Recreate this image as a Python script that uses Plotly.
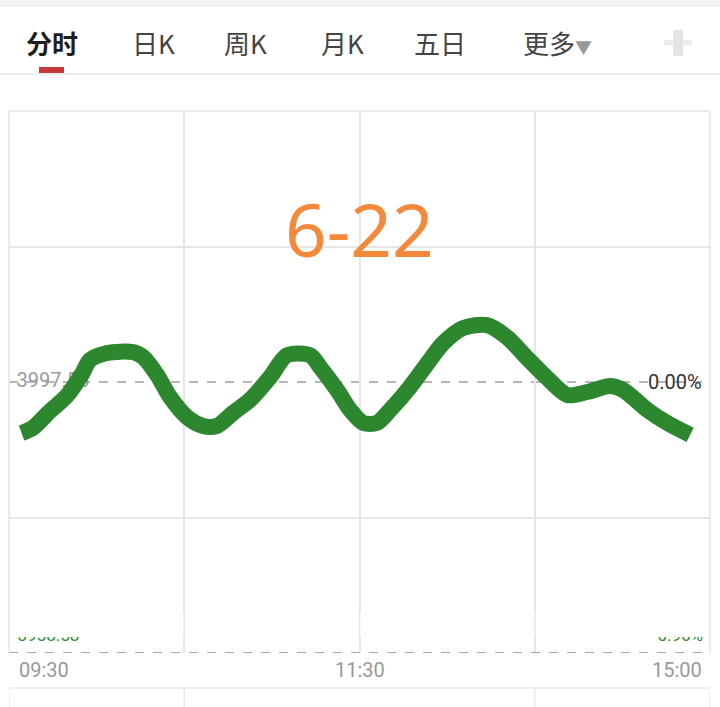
import plotly.graph_objects as go

# ---- data ----
minutes = [4.3, 8.2, 14.0, 19.9, 25.0, 27.7, 33.6, 42.5, 45.9, 50.7, 55.1, 60.9, 66.4, 71.2,
           76.7, 82.5, 89.4, 95.2, 103.1, 106.5, 112.3, 116.8, 121.2, 126.0, 130.5, 137.3,
           144.1, 148.6, 155.4, 163.7, 170.5, 177.4, 184.2, 191.1, 197.9, 205.8, 210.2,
           218.5, 225.3, 233.2]
pct = [-0.188, -0.169, -0.108, -0.050, 0.030, 0.081, 0.107, 0.110, 0.092, 0.026, -0.055,
       -0.129, -0.162, -0.162, -0.114, -0.066, 0.018, 0.099, 0.099, 0.055, -0.029, -0.103,
       -0.151, -0.151, -0.103, -0.018, 0.081, 0.143, 0.199, 0.210, 0.165, 0.088, 0.015,
       -0.048, -0.037, -0.015, -0.029, -0.103, -0.151, -0.195]
tabs = ["分时", "日K", "周K", "月K", "五日", "更多▼"]
tab_x = [52, 153, 245, 342, 440, 557]
time_labels = ["09:30", "11:30", "15:00"]
time_pos = [0, 120, 240]
base_price = "3997.56"
date_label = "6-22"

W, H = 720, 707
L, R, T, B = 9, 10, 111, 54
pw, ph = W - L - R, H - T - B


def px(x):
    return (x - L) / pw


def py(y):
    return (H - B - y) / ph


fig = go.Figure()

# labels drawn under the line
fig.add_trace(go.Scatter(x=[2.6], y=[0], mode="text", text=[base_price],
                         textposition="middle right",
                         textfont=dict(size=20, color="#9a9a9a", family="Roboto"),
                         cliponaxis=False, hoverinfo="skip", showlegend=False))
fig.add_trace(go.Scatter(x=[2.9, 237.6], y=[-0.94, -0.94], mode="text",
                         text=["3958.58", "-0.96%"],
                         textposition=["middle right", "middle left"],
                         textfont=dict(size=17, color="#2f8a2f", family="Roboto"),
                         cliponaxis=False, hoverinfo="skip", showlegend=False))

fig.add_trace(go.Scatter(x=minutes, y=pct, mode="lines",
                         line=dict(color="#2d872f", width=16, shape="spline", smoothing=0.8),
                         hoverinfo="skip", showlegend=False))

shapes = []
# white cover over upper part of bottom labels
shapes.append(dict(type="rect", xref="paper", yref="paper", x0=0.005, x1=0.995,
                   y0=py(637), y1=py(612), fillcolor="white", line_width=0, layer="above"))
# restore gridlines through the cover
for xv in [60, 120, 180]:
    shapes.append(dict(type="line", xref="x", yref="paper", x0=xv, x1=xv, y0=py(638), y1=py(611),
                       line=dict(color="#e6e6e6", width=1.5), layer="above"))
# zero dashed line
shapes.append(dict(type="line", xref="paper", yref="y", x0=0, x1=1, y0=0, y1=0,
                   line=dict(color="#a0a0a0", width=1.5, dash="dash"), layer="below"))
# bottom dashed line
shapes.append(dict(type="line", xref="paper", yref="y", x0=0, x1=1, y0=-1, y1=-1,
                   line=dict(color="#b5a48e", width=2, dash="dash"), layer="above"))
# top border + side borders
shapes.append(dict(type="line", xref="paper", yref="paper", x0=0, x1=1, y0=1, y1=1,
                   line=dict(color="#e6e6e6", width=1.5), layer="below"))
for xv in [0, 1]:
    shapes.append(dict(type="line", xref="paper", yref="paper", x0=xv, x1=xv, y0=0, y1=1,
                       line=dict(color="#e6e6e6", width=1.5), layer="below"))
# bottom strip line
shapes.append(dict(type="line", xref="paper", yref="paper", x0=0, x1=1, y0=py(688), y1=py(688),
                   line=dict(color="#e8e8e8", width=1.5), layer="below"))
for xv in [0, 60, 180, 240]:
    shapes.append(dict(type="line", xref="x", yref="paper", x0=xv, x1=xv, y0=py(688), y1=py(707),
                       line=dict(color="#e8e8e8", width=1.5), layer="below"))
# header separator
shapes.append(dict(type="line", xref="paper", yref="paper", x0=px(0), x1=px(720), y0=py(74), y1=py(74),
                   line=dict(color="#e6e6e6", width=1.5)))
# top gray band
shapes.append(dict(type="rect", xref="paper", yref="paper", x0=px(0), x1=px(720), y0=py(7), y1=py(0),
                   fillcolor="#f1f1f1", line_width=0))
# red tab indicator
shapes.append(dict(type="rect", xref="paper", yref="paper", x0=px(39), x1=px(64), y0=py(73), y1=py(67),
                   fillcolor="#c9393b", line_width=0))
# blurred icon at right
shapes.append(dict(type="rect", xref="paper", yref="paper", x0=px(664), x1=px(692), y0=py(45), y1=py(40),
                   fillcolor="#ececec", line_width=0))
shapes.append(dict(type="rect", xref="paper", yref="paper", x0=px(673), x1=px(683), y0=py(56), y1=py(30),
                   fillcolor="#e3e3e3", line_width=0))

annotations = []
for i, (t, x) in enumerate(zip(tabs, tab_x)):
    if i == 0:
        txt = "<b>" + t + "</b>"
        col = "#1e1e1e"
    elif t.endswith("▼"):
        txt = t[:-1] + "<span style='font-size:17px;color:#999999'>▼</span>"
        col = "#444444"
    else:
        txt = t
        col = "#444444"
    annotations.append(dict(x=px(x), y=py(43), xref="paper", yref="paper", text=txt,
                            showarrow=False, xanchor="center", yanchor="middle",
                            font=dict(size=26, color=col, family="Noto Sans CJK SC")))
annotations.append(dict(x=120, y=py(228), xref="x", yref="paper", text=date_label, showarrow=False,
                        xanchor="center", yanchor="middle",
                        font=dict(size=73, color="#f5893b", family="Noto Sans")))
annotations.append(dict(x=px(704), y=0, xref="paper", yref="y", text="0.00%", showarrow=False,
                        xanchor="right", yanchor="middle",
                        font=dict(size=20, color="#333333", family="Roboto")))
anchors = ["left", "center", "right"]
offs = [17, 360, 704]
for lab, a, o in zip(time_labels, anchors, offs):
    annotations.append(dict(x=px(o), y=py(670), xref="paper", yref="paper", text=lab, showarrow=False,
                            xanchor=a, yanchor="middle",
                            font=dict(size=20, color="#999999", family="Roboto")))

fig.update_layout(
    width=W, height=H,
    margin=dict(l=L, r=R, t=T, b=B),
    paper_bgcolor="white", plot_bgcolor="white",
    xaxis=dict(range=[0, 240], tickvals=[60, 120, 180], showticklabels=False,
               showgrid=True, gridcolor="#e6e6e6", gridwidth=1.5, zeroline=False,
               showline=False, fixedrange=True),
    yaxis=dict(range=[-1, 1], tickvals=[-0.5, 0.5], showticklabels=False,
               showgrid=True, gridcolor="#e6e6e6", gridwidth=1.5, zeroline=False,
               showline=False, fixedrange=True),
    shapes=shapes, annotations=annotations,
)

fig.write_html("out.html", config={"displayModeBar": False})
